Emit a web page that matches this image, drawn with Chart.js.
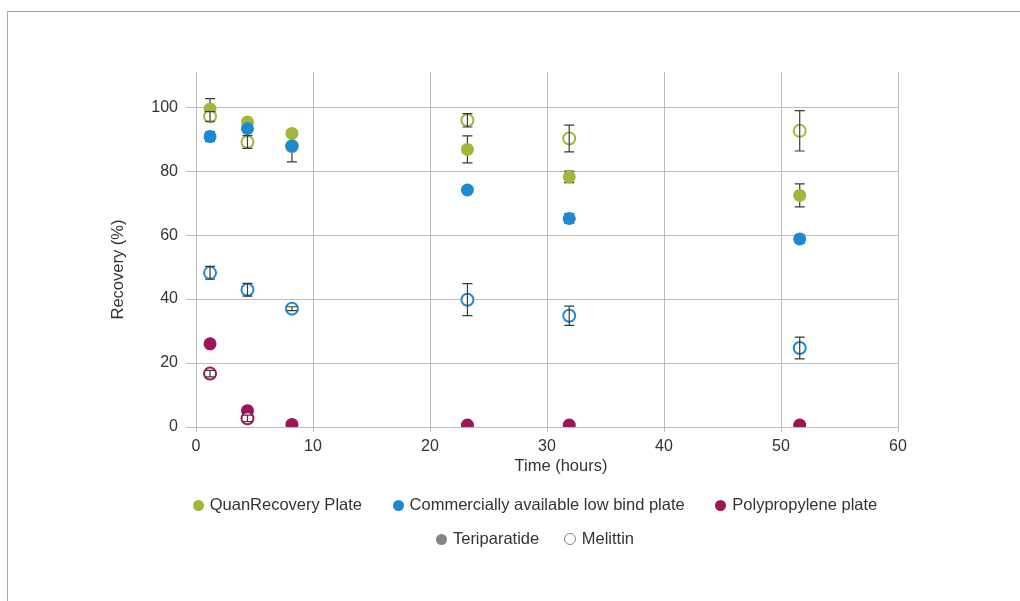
<!DOCTYPE html>
<html>
<head>
<meta charset="utf-8">
<script src="https://cdn.jsdelivr.net/npm/chart.js@4.4.1/dist/chart.umd.min.js"></script>
<style>
  body { margin: 0; background: #fff; font-family: "Liberation Sans", Arial, sans-serif; }
  #frame { position: absolute; left: 7px; top: 11px; width: 1020px; height: 600px;
           border-top: 1px solid #a8a8a8; border-left: 1px solid #a8a8a8; }
  #wrap { position: absolute; left: 0; top: 0; width: 1020px; height: 490px; }
  #legenda { position: absolute; left: 0; top: 487px; width: 1070px; text-align: center;
             font-size: 16.5px; color: #333; }
  .linha { height: 34px; line-height: 34px; white-space: nowrap; }
  .item { display: inline-block; margin: 0 13px; }
  .linha.dois .item { margin: 0 10px; }
  .bola { display: inline-block; width: 11px; height: 11px; border-radius: 50%;
          margin-right: 6px; vertical-align: -1px; box-sizing: border-box; }
</style>
</head>
<body>
<div id="frame"></div>
<div id="wrap"><canvas id="grafico"></canvas></div>
<div id="legenda">
  <div class="linha">
    <span class="item"><span class="bola" style="background:#a2b73a"></span>QuanRecovery Plate</span>
    <span class="item"><span class="bola" style="background:#1c8ad0"></span>Commercially available low bind plate</span>
    <span class="item"><span class="bola" style="background:#9c1556"></span>Polypropylene plate</span>
  </div>
  <div class="linha dois">
    <span class="item"><span class="bola" style="background:#858585"></span>Teriparatide</span>
    <span class="item"><span class="bola" style="border:1.5px solid #858585; width:12px; height:12px"></span>Melittin</span>
  </div>
</div>
<script>
const tempos = [1.2, 4.4, 8.2, 23.2, 31.9, 51.6];

// Teriparatide (filled) and Melittin (open), +/- error
const quanTeri = [99.4, 95.4, 91.8, 86.8, 78.2, 72.4];
const quanTeriErro = [3.3, 0, 0.5, 4.2, 1.8, 3.6];
const quanMel = [97.1, 89.1, 87.8, 95.9, 90.2, 92.6];
const quanMelErro = [1.5, 2, 0, 2.1, 4.2, 6.3];

const lowTeri = [90.8, 93.3, 87.9, 74.1, 65.2, 58.8];
const lowTeriErro = [1.5, 0, 5, 0, 1.5, 1.2];
const lowMel = [48.2, 42.9, 37.0, 39.8, 34.8, 24.7];
const lowMelErro = [2, 2, 0.6, 5, 3, 3.4];

const ppTeri = [26.0, 5.1, 0.8, 0.6, 0.6, 0.6];
const ppTeriErro = [1, 0, 0, 0, 0, 0];
const ppMel = [16.7, 2.7, null, null, null, null];
const ppMelErro = [1, 1, 0, 0, 0, 0];

const ticksY = [0, 20, 40, 60, 80, 100];

const verde = '#a2b73a';
const azul = '#1c8ad0';
const roxo = '#9c1556';
const fonte = 'Liberation Sans';

function pontos(valores, erros) {
    let lista = [];
    valores.forEach((v, i) => {
        if (v !== null) lista.push({ x: tempos[i], y: v, erro: erros[i] });
    });
    return lista;
}

function serieCheia(valores, erros, cor, ordem) {
    return {
        data: pontos(valores, erros),
        backgroundColor: cor,
        borderColor: cor,
        borderWidth: 0,
        pointRadius: 6.5,
        pointHoverRadius: 6.5,
        cheio: true,
        order: ordem
    };
}

function serieAberta(valores, erros, cor, ordem) {
    return {
        data: pontos(valores, erros),
        backgroundColor: '#ffffff',
        borderColor: cor,
        borderWidth: 2,
        pointRadius: 6,
        pointHoverRadius: 6,
        cheio: false,
        order: ordem
    };
}

function desenhaErros(chart, index) {
    const ctx = chart.ctx;
    const ds = chart.data.datasets[index];
    const x = chart.scales.x;
    const y = chart.scales.y;
    ctx.save();
    ctx.strokeStyle = '#3a3a3a';
    ctx.lineWidth = 1.2;
    ds.data.forEach(p => {
        if (!p.erro) return;
        let px = x.getPixelForValue(p.x);
        let topo = y.getPixelForValue(p.y + p.erro);
        let base = y.getPixelForValue(p.y - p.erro);
        ctx.beginPath();
        ctx.moveTo(px, topo); ctx.lineTo(px, base);
        ctx.moveTo(px - 5, topo); ctx.lineTo(px + 5, topo);
        ctx.moveTo(px - 5, base); ctx.lineTo(px + 5, base);
        ctx.stroke();
    });
    ctx.restore();
}

// filled markers sit on top of their bars, open markers get bars drawn over them
const barrasErro = {
    id: 'barrasErro',
    beforeDatasetsDraw(chart) {
        chart.data.datasets.forEach((ds, i) => { if (ds.cheio) desenhaErros(chart, i); });
    },
    afterDatasetDraw(chart, args) {
        if (!chart.data.datasets[args.index].cheio) desenhaErros(chart, args.index);
    }
};

const titulosEixos = {
    id: 'titulosEixos',
    afterDraw(chart) {
        const ctx = chart.ctx;
        const area = chart.chartArea;
        ctx.save();
        ctx.fillStyle = '#333';
        ctx.font = '16.5px "' + fonte + '"';
        ctx.textAlign = 'center';
        ctx.textBaseline = 'middle';
        ctx.fillText('Time (hours)', (area.left + area.right) / 2 + 14, area.bottom + 39);
        ctx.translate(118, (area.top + area.bottom) / 2 + 20);
        ctx.rotate(-Math.PI / 2);
        ctx.fillText('Recovery (%)', 0, 0);
        ctx.restore();
    }
};

const grafico = new Chart(document.getElementById('grafico'), {
    type: 'scatter',
    data: {
        datasets: [
            serieCheia(quanTeri, quanTeriErro, verde, 6),
            serieAberta(quanMel, quanMelErro, verde, 5),
            serieCheia(lowTeri, lowTeriErro, azul, 4),
            serieAberta(lowMel, lowMelErro, azul, 3),
            serieCheia(ppTeri, ppTeriErro, roxo, 2),
            serieAberta(ppMel, ppMelErro, roxo, 1)
        ]
    },
    plugins: [barrasErro, titulosEixos],
    options: {
        responsive: true,
        maintainAspectRatio: false,
        animation: false,
        layout: { padding: { left: 100, right: 122, top: 72, bottom: 8 } },
        plugins: { legend: { display: false }, tooltip: { enabled: false } },
        scales: {
            x: {
                type: 'linear',
                min: 0, max: 60,
                ticks: { stepSize: 10, color: '#333', padding: 5, font: { family: fonte, size: 16 } },
                grid: { color: '#bdbdbd', tickLength: 5, tickColor: '#bdbdbd' },
                border: { color: '#bdbdbd' },
                afterFit(scale) { scale.height = 55; }
            },
            y: {
                min: 0, max: 111,
                afterBuildTicks(scale) { scale.ticks = ticksY.map(v => ({ value: v })); },
                ticks: { color: '#333', padding: 8, font: { family: fonte, size: 16 } },
                grid: { color: '#bdbdbd', tickLength: 10, tickColor: '#bdbdbd' },
                border: { color: '#bdbdbd' },
                afterFit(scale) { scale.width = 96; }
            }
        }
    }
});
</script>
</body>
</html>
